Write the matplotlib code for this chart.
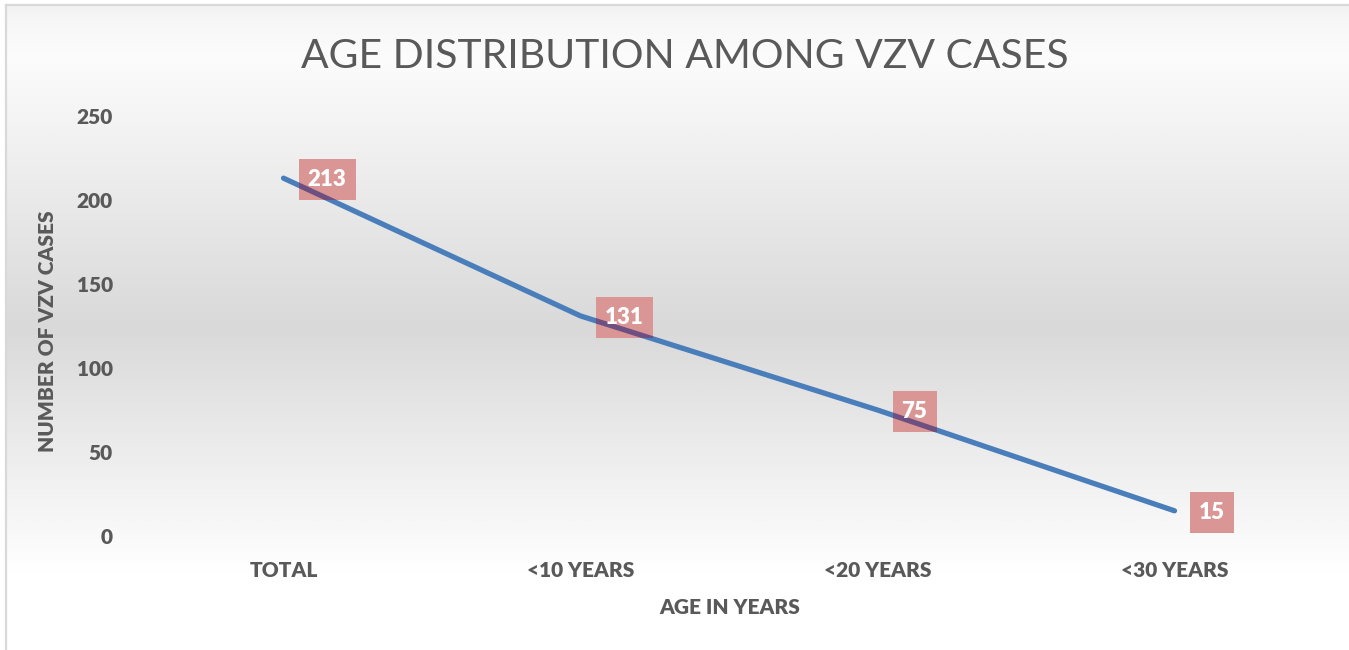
import numpy as np
import matplotlib
matplotlib.use("Agg")
import matplotlib.pyplot as plt
from matplotlib.patches import Rectangle
from matplotlib.transforms import ScaledTranslation
from matplotlib.colors import LinearSegmentedColormap

categories = ["TOTAL", "<10 YEARS", "<20 YEARS", "<30 YEARS"]
cases = [213, 131, 75, 15]
yticks = [0, 50, 100, 150, 200, 250]
title = "AGE DISTRIBUTION AMONG VZV CASES"
xlabel = "AGE IN YEARS"
ylabel = "NUMBER OF VZV CASES"

W, H, DPI = 1349, 650, 100
plt.rcParams['font.family'] = ['Lato', 'DejaVu Sans']
TXT = '#595959'
LINE = '#4a7ebb'
BOX = '#d99694'
OVER = '#6e4f82'
BW = 'heavy'

fig = plt.figure(figsize=(W / DPI, H / DPI), dpi=DPI)
fig.patch.set_facecolor('white')

# background gradient inside chart frame
bg = fig.add_axes([5 / W, 0, 1 - 5 / W, 1 - 5 / H], zorder=-10)
bg.set_axis_off()
stops = [(0.0, '#ffffff'), (0.12, '#ffffff'), (0.50, '#d9d9d9'), (0.92, '#fcfcfc'), (0.98, '#f7f7f7'), (1.0, '#f2f2f2')]
cmap = LinearSegmentedColormap.from_list('bgc', stops)
grad = np.linspace(0, 1, 512).reshape(-1, 1)
bg.imshow(grad, aspect='auto', cmap=cmap, origin='lower', extent=[0, 1, 0, 1])
bg.set_xlim(0, 1)
bg.set_ylim(0, 1)

# frame lines (left and top)
fig.add_artist(plt.Line2D([5.5 / W, 5.5 / W], [0, 1 - 4.5 / H], color='#d9d9d9', lw=1.6, transform=fig.transFigure))
fig.add_artist(plt.Line2D([5.5 / W, 1], [1 - 4.5 / H, 1 - 4.5 / H], color='#d9d9d9', lw=1.6, transform=fig.transFigure))

ax = fig.add_axes([135 / W, 114 / H, 1188 / W, 420 / H])
ax.set_facecolor('none')
for s in ax.spines.values():
    s.set_visible(False)

x = np.arange(len(categories))
ax.plot(x, cases, color=LINE, lw=3.8, solid_capstyle='round', solid_joinstyle='round', zorder=2)
ax.set_xlim(-0.5, len(categories) - 0.5)
ax.set_ylim(0, 250)
ax.set_yticks(yticks)
ax.set_yticklabels([str(v) for v in yticks])
ax.set_xticks(x)
ax.set_xticklabels(categories)
ax.tick_params(axis='both', length=0, labelsize=15, labelcolor=TXT)
ax.tick_params(axis='y', pad=16)
ax.tick_params(axis='x', pad=18)
for lab in ax.get_xticklabels() + ax.get_yticklabels():
    lab.set_fontweight(BW)

# data labels
for xi, v in zip(x, cases):
    wpx = 57 if v >= 100 else 44
    hpx = 41
    tr = fig.dpi_scale_trans + ScaledTranslation(xi, v, ax.transData)
    rect = Rectangle((15 / DPI, (-hpx / 2 - 1.5) / DPI), wpx / DPI, hpx / DPI,
                     transform=tr, facecolor=BOX, edgecolor='none', zorder=3)
    ax.add_patch(rect)
    ov, = ax.plot(x, cases, color=OVER, lw=3.8, solid_capstyle='round', zorder=4)
    ov.set_clip_path(rect)
    ax.text((15 + wpx / 2) / DPI, -1.5 / DPI, str(v), transform=tr, ha='center', va='center',
            color='white', fontsize=16, fontweight=BW, zorder=5)

fig.text(685 / W, 1 - 57 / H, title, ha='center', va='center', fontsize=29.4, color=TXT)
fig.text(730 / W, 1 - 607 / H, xlabel, ha='center', va='center', fontsize=15, fontweight=BW, color=TXT)
fig.text(48 / W, 1 - 331 / H, ylabel, ha='center', va='center', rotation=90, fontsize=15, fontweight=BW, color=TXT)

fig.savefig('out.png', dpi=DPI)
